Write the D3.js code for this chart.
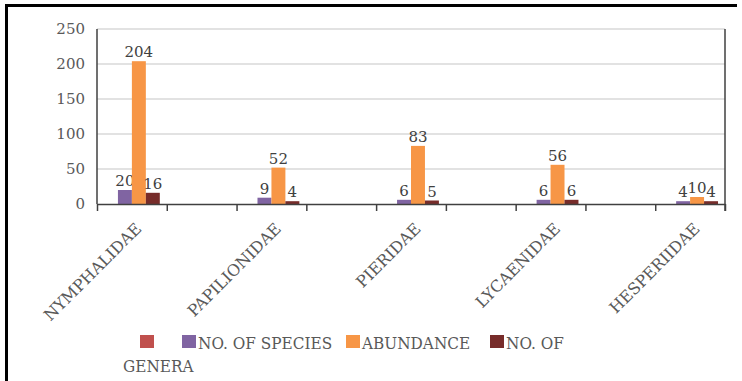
<!DOCTYPE html>
<html>
<head>
<meta charset="utf-8">
<script src="https://cdn.jsdelivr.net/npm/d3@7"></script>
<style>
  body { margin: 0; background: #fff; }
  svg text { font-family: "DejaVu Serif", serif; fill: #595959; }
</style>
</head>
<body>
<svg id="chart" width="742" height="381"></svg>
<script>
// categories as laid out in the sheet (blank slots between families)
var families = ['NYMPHALIDAE', '', 'PAPILIONIDAE', '', 'PIERIDAE', '', 'LYCAENIDAE', '', 'HESPERIIDAE'];
var seriesNames = ['', 'NO. OF SPECIES', 'ABUNDANCE', 'NO. OF GENERA'];
var blankSeries = [null, null, null, null, null, null, null, null, null];
var species   = [20, null, 9, null, 6, null, 6, null, 4];
var abundance = [204, null, 52, null, 83, null, 56, null, 10];
var genera    = [16, null, 4, null, 5, null, 6, null, 4];
var yTicks = [0, 50, 100, 150, 200, 250];

var colors = ['#c0504d', '#8064a2', '#f79646', '#772c2a'];
var seriesValues = [blankSeries, species, abundance, genera];

var svg = d3.select('#chart');
svg.append('rect').attr('width', 742).attr('height', 381).attr('fill', '#fff');

// outer frame (top and left visible)
svg.append('line').attr('x1', 5).attr('x2', 737).attr('y1', 5.5).attr('y2', 5.5)
    .attr('stroke', '#000').attr('stroke-width', 3);
svg.append('line').attr('x1', 6.5).attr('x2', 6.5).attr('y1', 4).attr('y2', 381)
    .attr('stroke', '#000').attr('stroke-width', 3);

var plotLeft = 97, plotRight = 725, plotTop = 29, plotBottom = 204;

var x0 = d3.scaleBand().domain(d3.range(families.length)).range([plotLeft, plotRight]).padding(0);
var bw = x0.bandwidth();
var x1 = d3.scaleBand().domain(d3.range(seriesNames.length)).range([bw * 0.1, bw * 0.9]).padding(0);
var y = d3.scaleLinear().domain([0, 250]).range([plotBottom, plotTop]);

// squeeze a text horizontally, the source font is narrow
function squeeze(sel, k) {
    sel.each(function () {
        var len = this.getComputedTextLength();
        if (len > 0) d3.select(this).attr('textLength', len * k).attr('lengthAdjust', 'spacingAndGlyphs');
    });
}

// gridlines
svg.append('g').selectAll('line').data(yTicks.slice(1)).enter().append('line')
    .attr('x1', plotLeft).attr('x2', plotRight)
    .attr('y1', function (d) { return y(d); }).attr('y2', function (d) { return y(d); })
    .attr('stroke', '#d9d9d9').attr('stroke-width', 1.5);

// y tick labels
svg.append('g').selectAll('text').data(yTicks).enter().append('text')
    .attr('x', 85).attr('y', function (d) { return y(d); })
    .attr('dy', '0.36em')
    .attr('text-anchor', 'end')
    .style('font-size', '15px')
    .text(function (d) { return d; });

// bars
var groups = svg.append('g').selectAll('g').data(families).enter().append('g')
    .attr('transform', function (d, i) { return 'translate(' + x0(i) + ',0)'; });

groups.each(function (f, i) {
    var g = d3.select(this);
    seriesValues.forEach(function (vals, s) {
        var v = vals[i];
        if (v == null) return;
        g.append('rect')
            .attr('x', x1(s)).attr('width', x1.bandwidth())
            .attr('y', y(v)).attr('height', y(0) - y(v))
            .attr('fill', colors[s]);
        g.append('text')
            .attr('x', x1(s) + x1.bandwidth() / 2)
            .attr('y', y(v) - 4)
            .attr('text-anchor', 'middle')
            .style('font-size', '15px')
            .style('fill', '#404040')
            .text(v);
    });
});

// axes lines
svg.append('line').attr('x1', plotLeft).attr('x2', plotLeft).attr('y1', plotTop).attr('y2', plotBottom)
    .attr('stroke', '#404040').attr('stroke-width', 1.5);
svg.append('line').attr('x1', plotRight).attr('x2', plotRight).attr('y1', plotTop).attr('y2', plotBottom + 7)
    .attr('stroke', '#404040').attr('stroke-width', 1.5);

var xt = d3.scaleLinear().domain([0, families.length]).range([plotLeft, plotRight]);
var xAxis = d3.axisBottom(xt).ticks(families.length).tickFormat('').tickSizeInner(7).tickSizeOuter(0);
var ax = svg.append('g').attr('transform', 'translate(0,' + plotBottom + ')').call(xAxis);
ax.select('.domain').attr('stroke', '#404040').attr('stroke-width', 1.5);
ax.selectAll('.tick line').attr('stroke', '#404040').attr('stroke-width', 1.5);

// category labels
svg.append('g').selectAll('text').data(families).enter().append('text')
    .attr('transform', function (d, i) {
        return 'translate(' + (x0(i) + bw / 2 + 5) + ',' + (plotBottom + 20) + ') rotate(-45)';
    })
    .attr('text-anchor', 'end')
    .attr('dy', '0.5em')
    .style('font-size', '16px')
    .text(function (d) { return d; });

// legend
var legendItems = [
    { name: seriesNames[0], color: colors[0], x: 140 },
    { name: seriesNames[1], color: colors[1], x: 182 },
    { name: seriesNames[2], color: colors[2], x: 346 },
    { name: seriesNames[3], color: colors[3], x: 490 }
];
var lg = svg.append('g');
lg.selectAll('rect').data(legendItems).enter().append('rect')
    .attr('x', function (d) { return d.x; }).attr('y', 335)
    .attr('width', 14).attr('height', 13)
    .attr('fill', function (d) { return d.color; });
lg.selectAll('text').data(legendItems).enter().append('text')
    .attr('x', function (d) { return d.x + 16; }).attr('y', 349)
    .style('font-size', '17px')
    .each(function (d) {
        var t = d3.select(this);
        var parts = d.name.split(' ');
        if (d.name === 'NO. OF GENERA') {
            t.append('tspan').text(parts.slice(0, 2).join(' ')).call(squeeze, 0.9);
            t.append('tspan').attr('x', 123).attr('y', 372).text(parts[2]).call(squeeze, 0.9);
        } else {
            t.text(d.name).call(squeeze, 0.9);
        }
    });
</script>
</body>
</html>
